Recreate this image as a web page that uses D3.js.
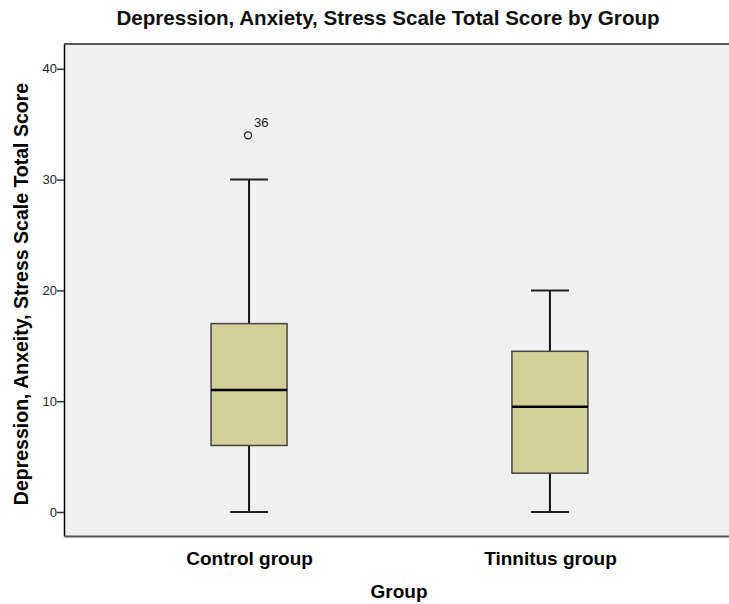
<!DOCTYPE html>
<html>
<head>
<meta charset="utf-8">
<script src="https://cdn.jsdelivr.net/npm/d3@7"></script>
<style>
  body { margin: 0; background: #fff; }
  text { font-family: "Liberation Sans", Arial, sans-serif; }
</style>
</head>
<body>
<div id="chart"></div>
<script>
// box plot data
var groups = ["Control group", "Tinnitus group"];
var lowWhisker = [0, 0];
var q1 = [6, 3.5];
var median = [11, 9.5];
var q3 = [17, 14.5];
var highWhisker = [30, 20];
var outliers = [{group: "Control group", value: 34, label: "36"}];
var yTicks = [0, 10, 20, 30, 40];

var svgWidth = 729;
var svgHeight = 604;

var margin = {top: 44, right: -6, bottom: 68, left: 64};
var width = svgWidth - margin.left - margin.right;
var height = svgHeight - margin.top - margin.bottom;

var svg = d3.select("#chart")
  .append("svg")
  .attr("width", svgWidth)
  .attr("height", svgHeight);

// title
svg.append("text")
  .attr("x", 388)
  .attr("y", 25)
  .attr("text-anchor", "middle")
  .style("font-size", "20.6px")
  .style("font-weight", "bold")
  .attr("fill", "#111")
  .text("Depression, Anxiety, Stress Scale Total Score by Group");

var chartGroup = svg.append("g")
  .attr("transform", `translate(${margin.left}, ${margin.top})`);

chartGroup.append("rect")
  .attr("width", width)
  .attr("height", height)
  .attr("fill", "#f0f0f0");

var xScale = d3.scalePoint()
  .domain(groups)
  .range([0, width])
  .padding(0.615);

var yScale = d3.scaleLinear()
  .domain([-2.17, 42.24])
  .range([height, 0]);

var boxWidth = 76;
var capWidth = 38;

// axes
var leftAxis = d3.axisLeft(yScale).tickValues(yTicks).tickSize(7).tickSizeOuter(0);
var bottomAxis = d3.axisBottom(xScale).tickSize(0).tickSizeOuter(0).tickPadding(17);

var yAxis = chartGroup.append("g").call(leftAxis);
yAxis.select(".domain").attr("stroke", "#000").attr("stroke-width", 1.5);
yAxis.selectAll(".tick line").attr("stroke", "#333").attr("stroke-width", 1.5);
yAxis.selectAll(".tick text")
  .attr("x", -7)
  .style("font-size", "13px")
  .style("font-family", "Liberation Sans, Arial, sans-serif")
  .attr("fill", "#222");

var xAxis = chartGroup.append("g")
  .attr("transform", `translate(0, ${height})`)
  .call(bottomAxis);
xAxis.select(".domain").attr("stroke", "#555").attr("stroke-width", 2);
xAxis.selectAll(".tick text")
  .attr("dy", "0.62em")
  .style("font-size", "19px")
  .style("font-weight", "bold")
  .style("font-family", "Liberation Sans, Arial, sans-serif")
  .attr("fill", "#000");

// top border
chartGroup.append("line")
  .attr("x1", 0).attr("x2", width)
  .attr("y1", 0).attr("y2", 0)
  .attr("stroke", "#555").attr("stroke-width", 2);

// boxes
var boxes = chartGroup.selectAll(".box")
  .data(groups)
  .enter()
  .append("g")
  .attr("class", "box");

boxes.append("line")
  .attr("x1", d => xScale(d)).attr("x2", d => xScale(d))
  .attr("y1", (d, i) => yScale(highWhisker[i]))
  .attr("y2", (d, i) => yScale(lowWhisker[i]))
  .attr("stroke", "#111").attr("stroke-width", 2);

boxes.append("line")
  .attr("x1", d => xScale(d) - capWidth / 2).attr("x2", d => xScale(d) + capWidth / 2)
  .attr("y1", (d, i) => yScale(highWhisker[i]))
  .attr("y2", (d, i) => yScale(highWhisker[i]))
  .attr("stroke", "#222").attr("stroke-width", 2);

boxes.append("line")
  .attr("x1", d => xScale(d) - capWidth / 2).attr("x2", d => xScale(d) + capWidth / 2)
  .attr("y1", (d, i) => yScale(lowWhisker[i]))
  .attr("y2", (d, i) => yScale(lowWhisker[i]))
  .attr("stroke", "#222").attr("stroke-width", 2);

boxes.append("rect")
  .attr("x", d => xScale(d) - boxWidth / 2)
  .attr("y", (d, i) => yScale(q3[i]))
  .attr("width", boxWidth)
  .attr("height", (d, i) => yScale(q1[i]) - yScale(q3[i]))
  .attr("fill", "#d3cf98")
  .attr("stroke", "#444")
  .attr("stroke-width", 1.5);

boxes.append("line")
  .attr("x1", d => xScale(d) - boxWidth / 2).attr("x2", d => xScale(d) + boxWidth / 2)
  .attr("y1", (d, i) => yScale(median[i]))
  .attr("y2", (d, i) => yScale(median[i]))
  .attr("stroke", "#000").attr("stroke-width", 2.5);

// outliers
chartGroup.selectAll(".outlier")
  .data(outliers)
  .enter()
  .append("circle")
  .attr("cx", d => xScale(d.group) - 1)
  .attr("cy", d => yScale(d.value))
  .attr("r", 3.5)
  .attr("fill", "none")
  .attr("stroke", "#222")
  .attr("stroke-width", 1.3);

chartGroup.selectAll(".outlierLabel")
  .data(outliers)
  .enter()
  .append("text")
  .attr("x", d => xScale(d.group) + 5)
  .attr("y", d => yScale(d.value) - 8)
  .style("font-size", "13px")
  .attr("fill", "#222")
  .text(d => d.label);

// axis labels
svg.append("text")
  .attr("x", 399)
  .attr("y", 598)
  .attr("text-anchor", "middle")
  .style("font-size", "19px")
  .style("font-weight", "bold")
  .text("Group");

svg.append("text")
  .attr("transform", `translate(28, 294) rotate(-90)`)
  .attr("text-anchor", "middle")
  .style("font-size", "19.5px")
  .style("font-weight", "bold")
  .text("Depression, Anxeity, Stress Scale Total Score");
</script>
</body>
</html>
